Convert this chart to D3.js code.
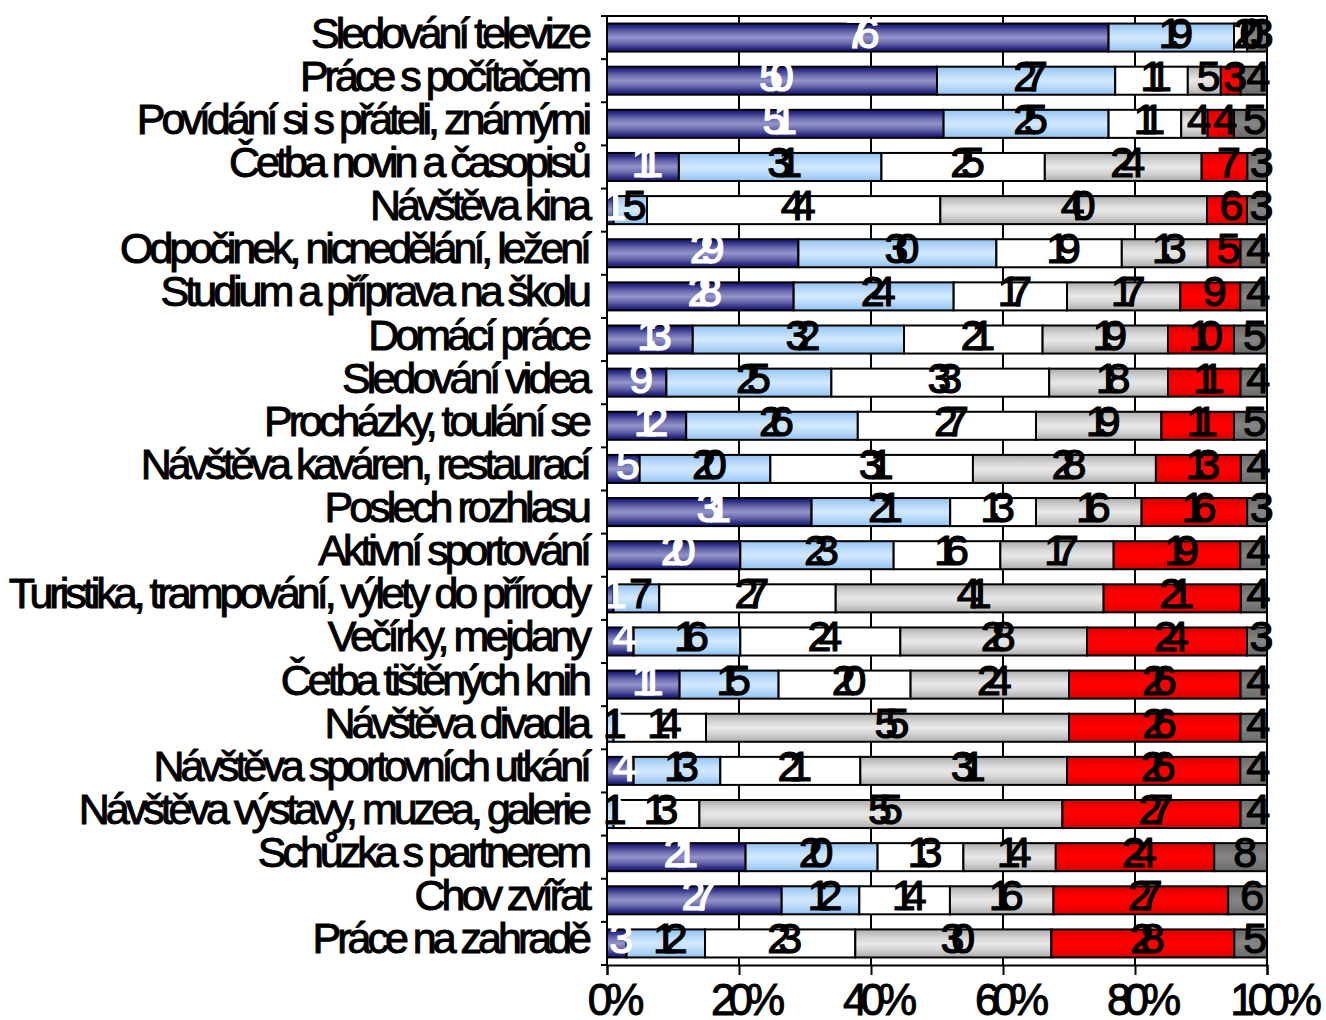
<!DOCTYPE html>
<html>
<head>
<meta charset="utf-8">
<title></title>
<style>
  body { margin: 0; background: #fff; }
  text { font-family: "Liberation Sans", Arial, sans-serif; }
</style>
<script src="https://d3js.org/d3.v7.min.js"></script>
</head>
<body>
<div id="chart"></div>
<script>
// categories, top to bottom
var categories = ["Sledování televize", "Práce s počítačem", "Povídání si s přáteli, známými",
  "Četba novin a časopisů", "Návštěva kina", "Odpočinek, nicnedělání, ležení",
  "Studium a příprava na školu", "Domácí práce", "Sledování videa", "Procházky, toulání se",
  "Návštěva kaváren, restaurací", "Poslech rozhlasu", "Aktivní sportování",
  "Turistika, trampování, výlety do přírody", "Večírky, mejdany", "Četba tištěných knih",
  "Návštěva divadla", "Návštěva sportovních utkání", "Návštěva výstavy, muzea, galerie",
  "Schůzka s partnerem", "Chov zvířat", "Práce na zahradě"];

// series values (percent), one value per category
var serie1 = [76, 50, 51, 11, 1, 29, 28, 13, 9, 12, 5, 31, 20, 1, 4, 11, 0, 4, 0, 21, 27, 3];
var serie2 = [19, 27, 25, 31, 5, 30, 24, 32, 25, 26, 20, 21, 23, 7, 16, 15, 1, 13, 1, 20, 12, 12];
var serie3 = [2, 11, 11, 25, 44, 19, 17, 21, 33, 27, 31, 13, 16, 27, 24, 20, 14, 21, 13, 13, 14, 23];
var serie4 = [0, 5, 4, 24, 40, 13, 17, 19, 18, 19, 28, 16, 17, 41, 28, 24, 55, 31, 55, 14, 16, 30];
var serie5 = [0, 3, 4, 7, 6, 5, 9, 10, 11, 11, 13, 16, 19, 21, 24, 26, 26, 26, 27, 24, 27, 28];
var serie6 = [3, 4, 5, 3, 3, 4, 4, 5, 4, 5, 4, 3, 4, 4, 3, 4, 4, 4, 4, 8, 6, 5];

var tickValues = [0, 0.2, 0.4, 0.6, 0.8, 1];

var keys = ["s1", "s2", "s3", "s4", "s5", "s6"];
var series = [serie1, serie2, serie3, serie4, serie5, serie6];
var table = categories.map(function(c, i) {
  var row = {name: c};
  keys.forEach(function(k, j) { row[k] = series[j][i]; });
  return row;
});

var W = 1326, H = 1020;
var plotL = 607, plotR = 1267, plotT = 16, plotB = 965;

var svg = d3.select("#chart").append("svg")
  .attr("width", W).attr("height", H);

// gradients (horizontal banding like the original)
var defs = svg.append("defs");
function grad(id, stops) {
  var g = defs.append("linearGradient").attr("id", id)
    .attr("x1", 0).attr("y1", 0).attr("x2", 0).attr("y2", 1);
  stops.forEach(function(s) {
    g.append("stop").attr("offset", s[0]).attr("stop-color", s[1]);
  });
}
grad("g1", [[0, "#14146a"], [0.12, "#2e2e88"], [0.3, "#6868aa"], [0.5, "#9494cc"], [0.7, "#6868aa"], [0.88, "#2e2e88"], [1, "#14146a"]]);
grad("g2", [[0, "#92c2f0"], [0.3, "#bcdcfb"], [0.5, "#d2e9ff"], [0.7, "#bcdcfb"], [1, "#92c2f0"]]);
grad("g3", [[0, "#ffffff"], [1, "#ffffff"]]);
grad("g4", [[0, "#acacac"], [0.3, "#d6d6d6"], [0.5, "#e8e8e8"], [0.7, "#d6d6d6"], [1, "#acacac"]]);
grad("g5", [[0, "#d40000"], [0.3, "#f80000"], [0.5, "#ff0000"], [0.7, "#f80000"], [1, "#d40000"]]);
grad("g6", [[0, "#6a6a6a"], [0.5, "#858585"], [1, "#6a6a6a"]]);
var fills = ["url(#g1)", "url(#g2)", "url(#g3)", "url(#g4)", "url(#g5)", "url(#g6)"];
var labelColors = ["#fff", "#000", "#000", "#000", "#000", "#000"];

var x = d3.scaleLinear().domain([0, 1]).range([plotL, plotR]);
var y = d3.scaleBand().domain(categories).range([plotT, plotB])
  .paddingInner(0.35).paddingOuter(0.175);

var stack = d3.stack().keys(keys).offset(d3.stackOffsetExpand);
var stacked = stack(table);

// top frame line + vertical gridlines
svg.append("line")
  .attr("x1", plotL).attr("x2", plotR).attr("y1", plotT).attr("y2", plotT)
  .attr("stroke", "#000").attr("stroke-width", 2);
svg.append("g").selectAll("line")
  .data(tickValues.slice(1))
  .enter().append("line")
    .attr("x1", function(d) { return x(d); })
    .attr("x2", function(d) { return x(d); })
    .attr("y1", plotT).attr("y2", plotB)
    .attr("stroke", "#000").attr("stroke-width", 2);

// bars
svg.append("g").selectAll("g")
  .data(stacked)
  .enter().append("g")
    .attr("fill", function(d, i) { return fills[i]; })
  .selectAll("rect")
  .data(function(d) { return d; })
  .enter().append("rect")
    .attr("x", function(d) { return x(d[0]); })
    .attr("y", function(d) { return y(d.data.name); })
    .attr("width", function(d) { return x(d[1]) - x(d[0]); })
    .attr("height", y.bandwidth())
    .attr("stroke", "#000").attr("stroke-width", 2);

// value labels
stacked.forEach(function(s, i) {
  svg.append("g").selectAll("text")
    .data(s)
    .enter().append("text")
      .attr("x", function(d) { return (x(d[0]) + x(d[1])) / 2; })
      .attr("y", function(d) { return y(d.data.name) + y.bandwidth() / 2 + 10; })
      .attr("dx", -2)
      .attr("text-anchor", "middle")
      .attr("fill", labelColors[i])
      .attr("stroke", labelColors[i])
      .attr("stroke-width", 1.2)
      .style("font-size", "43px")
      .style("letter-spacing", "-13px")
      .text(function(d) { return d.data[s.key]; });
});

// left axis: line + ticks between categories
svg.append("line")
  .attr("x1", plotL).attr("x2", plotL).attr("y1", plotT).attr("y2", plotB)
  .attr("stroke", "#000").attr("stroke-width", 2);
var bounds = categories.map(function(c) { return y(c) - y.step() * y.paddingInner() / 2; });
bounds.push(plotB);
svg.append("g").selectAll("line")
  .data(bounds)
  .enter().append("line")
    .attr("x1", plotL - 6).attr("x2", plotL)
    .attr("y1", function(d) { return d; }).attr("y2", function(d) { return d; })
    .attr("stroke", "#000").attr("stroke-width", 2);

// category labels
svg.append("g").selectAll("text")
  .data(categories)
  .enter().append("text")
    .attr("x", plotL - 19)
    .attr("y", function(d) { return y(d) + y.bandwidth() / 2 + 10; })
    .attr("text-anchor", "end")
    .attr("stroke", "#000")
    .attr("stroke-width", 1)
    .style("font-size", "43px")
    .style("letter-spacing", "-4px")
    .text(function(d) { return d; });

// bottom axis
var xAxis = svg.append("g")
  .attr("transform", "translate(0," + plotB + ")")
  .call(d3.axisBottom(x).tickValues(tickValues).tickSize(10).tickFormat(d3.format(".0%")));
xAxis.select(".domain").attr("stroke-width", 2);
xAxis.selectAll(".tick line").attr("stroke-width", 2);
xAxis.selectAll(".tick text")
  .attr("y", 50).attr("dy", 0).attr("dx", 5)
  .attr("fill", "#000")
  .attr("stroke", "#000")
  .attr("stroke-width", 1)
  .style("font-family", "'Liberation Sans', Arial, sans-serif")
  .style("font-size", "44px")
  .style("letter-spacing", "-7px");
</script>
</body>
</html>
